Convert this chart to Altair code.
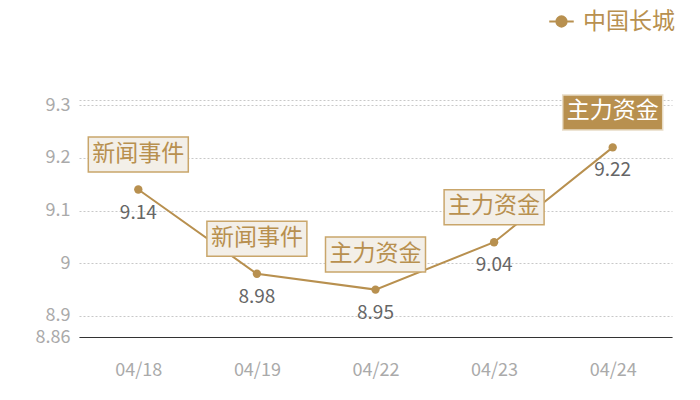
import altair as alt
import pandas as pd

dates = ["04/18", "04/19", "04/22", "04/23", "04/24"]
prices = [9.14, 8.98, 8.95, 9.04, 9.22]
events = ["新闻事件", "新闻事件", "主力资金", "主力资金", "主力资金"]
highlight = [False, False, False, False, True]
series = "中国长城"

df = pd.DataFrame({"date": dates, "price": prices, "event": events,
                   "hl": highlight, "series": series})

GOLD = "#b8904f"
FONT = "Noto Sans CJK SC"

x = alt.X("date:O", sort=dates, title=None,
          scale=alt.Scale(type="point", padding=0.5),
          axis=alt.Axis(labelAngle=0, labelFontSize=18, labelColor="#aaaaaa",
                        labelFont=FONT, ticks=False, domainColor="#333333",
                        domainWidth=1, labelPadding=24, grid=False))
y = alt.Y("price:Q", title=None,
          scale=alt.Scale(domain=[8.86, 9.31], nice=False, zero=False),
          axis=alt.Axis(values=[8.86, 8.9, 9.0, 9.1, 9.2, 9.3, 9.31],
                        labelExpr="datum.value == 9.31 ? '' : toString(datum.value)",
                        labelFontSize=18, labelColor="#aaaaaa", labelFont=FONT,
                        ticks=False, domain=False, labelPadding=9,
                        gridColor="#c8c8c8", gridDash=[2, 2], gridWidth=1))

base = alt.Chart(df)

line = base.mark_line(strokeWidth=2).encode(
    x=x, y=y,
    color=alt.Color("series:N", title=None,
                    scale=alt.Scale(range=[GOLD]),
                    legend=alt.Legend(orient="none", legendX=469, legendY=-92,
                                      padding=0,
                                      symbolType="M-1,0 L-0.45,0 M0.45,0 L1,0 M-0.42,0 A0.42,0.42 0 1,1 0.42,0 A0.42,0.42 0 1,1 -0.42,0 Z",
                                      symbolSize=600, symbolStrokeWidth=2,
                                      symbolFillColor=GOLD,
                                      labelFontSize=23, labelColor=GOLD,
                                      labelFont=FONT, labelOffset=8)),
)

points = base.mark_circle(size=70, opacity=1, color=GOLD).encode(x=x, y=y)

values = base.mark_text(fontSize=19, color="#666666", font=FONT,
                        dy=23, baseline="middle").encode(
    x=x, y=y, text=alt.Text("price:Q", format=".2f"))

boxes = base.mark_point(
    shape="M-1,-0.35 L1,-0.35 L1,0.35 L-1,0.35 Z", size=10000,
    filled=True, yOffset=-35, strokeWidth=1.5, opacity=1).encode(
    x=x, y=y,
    fill=alt.condition("datum.hl", alt.value(GOLD), alt.value("#f3efe8")),
    stroke=alt.condition("datum.hl", alt.value("#e8dcc6"), alt.value("#c9a66b")),
)

box_text = base.mark_text(fontSize=23, font=FONT, dy=-36, baseline="middle").encode(
    x=x, y=y, text="event:N",
    color=alt.condition("datum.hl", alt.value("#ffffff"), alt.value(GOLD)),
)

chart = alt.layer(line, points, values, boxes, box_text).properties(
    width=593, height=237,
    autosize=alt.AutoSizeParams(type="none"),
    padding={"left": 71, "top": 92, "right": 20, "bottom": 55},
).configure(background="#ffffff").configure_view(stroke=None, strokeWidth=0)

chart.save("out.html", embed_options={"renderer": "svg", "actions": False})
